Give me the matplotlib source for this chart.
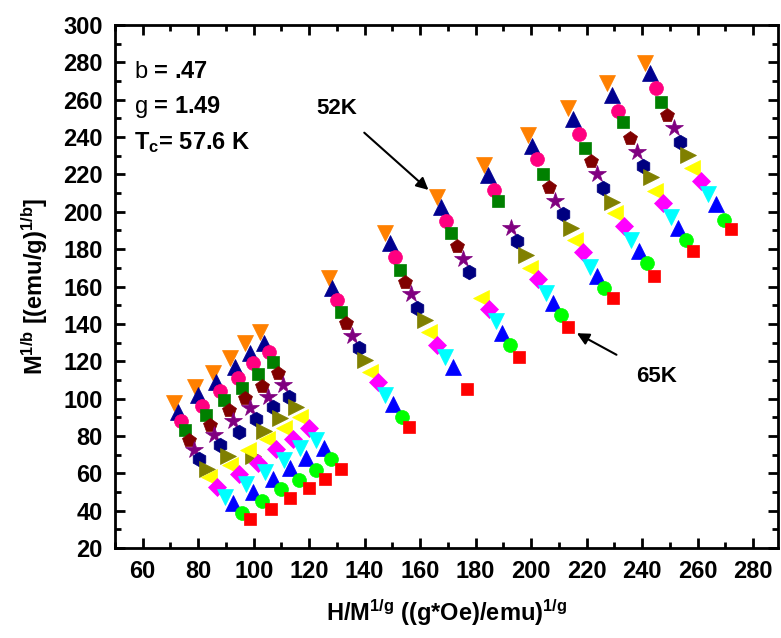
import numpy as np
import matplotlib
matplotlib.use("Agg")
import matplotlib.pyplot as plt
from matplotlib.ticker import MultipleLocator

plt.rcParams['font.family'] = ['Liberation Sans', 'DejaVu Sans']
plt.rcParams['mathtext.fontset'] = 'custom'
plt.rcParams['mathtext.rm'] = 'Liberation Sans:bold'
plt.rcParams['mathtext.it'] = 'Liberation Sans:bold'
plt.rcParams['mathtext.bf'] = 'Liberation Sans:bold'
plt.rcParams['mathtext.sf'] = 'Liberation Sans'

nan = np.nan
temperatures = [52, 53, 54, 55, 56, 57, 58, 59, 60, 61, 62, 63, 64, 65]

# H/M^(1/g) for each temperature, one value per field line (14 field lines)
x_52 = [71.17, 78.73, 85.36, 91.59, 97.00, 102.40, 127.00, 147.43, 166.05, 182.84, 198.83, 213.46, 227.29, 241.09]
y_52 = [97.48, 106.05, 113.87, 121.90, 129.60, 135.82, 164.40, 188.49, 208.08, 225.05, 241.11, 255.41, 268.79, 279.50]
x_53 = [72.61, 79.96, 86.55, 93.14, 98.54, 103.84, 128.23, 148.98, 167.60, 184.64, 200.49, 215.26, 229.31, 242.89]
y_53 = [92.99, 101.66, 109.05, 116.76, 124.25, 129.60, 159.05, 183.46, 202.73, 219.70, 235.23, 249.68, 262.53, 274.14]
x_54 = [73.94, 81.40, 87.99, 94.37, 99.77, 105.39, 130.03, 151.03, 169.40, 186.80, 202.29, 217.31, 231.47, 244.94]
y_54 = [88.01, 96.20, 103.91, 111.19, 118.90, 125.11, 152.78, 175.64, 195.08, 211.67, 228.11, 241.49, 254.12, 266.11]
x_55 = [75.38, 82.87, 89.43, 95.81, 101.43, 106.97, 131.58, 152.83, 171.20, 188.24, 204.45, 219.47, 233.27, 246.85]
y_55 = [83.03, 90.95, 99.09, 105.84, 113.17, 119.43, 146.52, 168.84, 188.81, 205.94, 220.24, 233.99, 247.91, 258.94]
x_56 = [76.82, 84.24, 90.98, 97.00, 103.01, 108.63, 133.38, 154.63, 173.36, nan, 206.61, 221.53, 235.69, 249.12]
y_56 = [77.84, 85.60, 93.74, 100.16, 106.75, 113.55, 140.31, 162.58, 181.69, nan, 213.44, 227.36, 239.67, 251.82]
x_57 = [78.37, 85.86, 92.67, 98.80, 105.03, 110.58, 135.43, 156.79, 175.35, 192.82, 208.67, 223.69, 238.10, 251.64]
y_57 = [72.65, 80.68, 87.85, 95.13, 101.02, 107.28, 133.51, 155.84, 174.47, 191.49, 205.94, 220.08, 231.85, 244.70]
x_58 = [80.17, 87.85, 94.58, 100.96, 106.83, 112.59, 137.81, 158.85, 177.69, 194.87, 211.37, 226.07, 240.48, 253.69]
y_58 = [67.67, 75.16, 82.28, 89.08, 95.34, 101.02, 127.25, 148.66, 167.94, 184.53, 198.82, 212.90, 224.52, 237.53]
x_59 = [83.05, 90.87, 99.88, 103.84, 109.60, 115.37, 140.22, 161.84, nan, 198.22, 214.25, 229.31, 243.25, 256.68]
y_59 = [62.15, 69.38, 69.27, 82.82, 89.45, 95.34, 120.66, 142.08, nan, 176.87, 191.33, 205.41, 218.47, 230.41]
x_60 = [83.92, 91.34, 97.90, 104.81, 111.04, 116.56, 142.02, 163.03, 182.01, 199.66, 215.77, 230.28, 244.69, 258.13]
y_60 = [57.76, 64.67, 72.22, 78.21, 84.10, 90.31, 114.40, 135.82, 154.02, 170.08, 184.90, 199.20, 211.13, 223.61]
x_61 = [86.80, 94.58, 101.39, 108.16, 114.18, 119.80, 144.91, 166.05, 185.00, 202.44, 218.58, 233.52, 247.68, 261.26]
y_61 = [52.68, 59.74, 65.69, 72.86, 78.21, 84.10, 108.89, 128.69, 147.81, 163.87, 178.64, 192.40, 204.55, 216.49]
x_62 = [89.79, 97.36, 104.20, 110.79, 116.56, 122.57, 147.43, 169.04, 187.23, 205.32, 221.28, 236.04, 250.35, 263.67]
y_62 = [47.48, 54.02, 60.87, 67.13, 73.39, 77.84, 101.93, 122.43, 141.54, 156.37, 170.61, 184.90, 197.38, 209.53]
x_63 = [92.38, 99.77, 106.97, 113.21, 118.97, 125.20, 150.20, 171.82, 189.39, 207.84, 223.80, 239.03, 253.08, 266.55]
y_63 = [44.11, 50.16, 56.80, 62.69, 68.04, 73.39, 97.11, 117.08, 135.12, 151.02, 165.63, 179.02, 191.49, 204.02]
x_64 = [95.81, 103.01, 109.96, 116.45, 122.46, 127.98, 153.44, nan, 192.50, 210.94, 226.43, 241.70, 255.86, 269.55]
y_64 = [38.92, 45.34, 51.45, 56.42, 61.78, 67.51, 90.31, nan, 128.50, 144.49, 159.05, 172.43, 184.90, 195.61]
x_65 = [98.80, 106.36, 113.21, 119.80, 125.81, 131.47, 155.82, 176.97, 195.50, 213.46, 229.45, 244.44, 258.49, 272.06]
y_65 = [35.44, 40.79, 46.63, 51.98, 56.80, 62.15, 84.96, 105.14, 122.50, 138.49, 153.69, 165.79, 179.02, 190.63]

xs = [x_52, x_53, x_54, x_55, x_56, x_57, x_58, x_59, x_60, x_61, x_62, x_63, x_64, x_65]
ys = [y_52, y_53, y_54, y_55, y_56, y_57, y_58, y_59, y_60, y_61, y_62, y_63, y_64, y_65]

markers = ['v', '^', 'o', 's', 'p', '*', 'h', '>', '<', 'D', 'v', '^', 'o', 's']
colors = ['#FF8000', '#000090', '#FF0080', '#008000', '#800000', '#800080', '#000080',
          '#808000', '#FFFF00', '#FF00FF', '#00FFFF', '#0000FF', '#00FF00', '#FF0000']
sizes = [11.5, 11.5, 10, 8.5, 10.5, 13, 10.5, 11, 11, 9, 11.5, 11.5, 10, 8.5]

fig = plt.figure(figsize=(7.81, 6.38), dpi=100)
ax = fig.add_axes([115/781, 1-548/638, (778-115)/781, (548-25)/638])

for x, y, m, c, s in zip(xs, ys, markers, colors, sizes):
    ax.plot(x, y, linestyle='none', marker=m, color=c, markersize=s,
            markeredgecolor=c, markeredgewidth=0.5)

ax.set_xlim(50, 289)
ax.set_ylim(20, 300)
ax.xaxis.set_major_locator(MultipleLocator(20))
ax.xaxis.set_minor_locator(MultipleLocator(10))
ax.yaxis.set_major_locator(MultipleLocator(20))
ax.yaxis.set_minor_locator(MultipleLocator(10))
ax.tick_params(which='both', direction='in', top=True, right=True, width=2)
ax.tick_params(which='major', length=7, labelsize=17, pad=9)
ax.tick_params(which='minor', length=4)
for lab in ax.get_xticklabels() + ax.get_yticklabels():
    lab.set_fontweight('bold')
for sp in ax.spines.values():
    sp.set_linewidth(2)

ax.set_xlabel(r'H/M$^{\rm 1/g}$ ((g*Oe)/emu)$^{\rm 1/g}$', fontsize=17, fontweight='bold', labelpad=10)
ax.set_ylabel(r'M$^{\rm 1/b}$ [(emu/g)$^{\rm 1/b}$]', fontsize=17, fontweight='bold', labelpad=9)

ax.text(57, 275, r'$\mathsf{b}$ = .47', fontsize=17, fontweight='bold', va='center', ha='left')
ax.text(57, 256, r'$\mathsf{g}$ = 1.49', fontsize=17, fontweight='bold', va='center', ha='left')
ax.text(57, 237, r'T$_{\rm c}$= 57.6 K', fontsize=17, fontweight='bold', va='center', ha='left')

ax.annotate('52K', xy=(163.0, 211.7), xytext=(130.0, 255.4), fontsize=16, fontweight='bold',
            ha='center', va='center',
            arrowprops=dict(arrowstyle='-|>', color='black', lw=1.5, mutation_scale=18,
                            shrinkA=12, shrinkB=0))
ax.annotate('65K', xy=(216.5, 135.0), xytext=(245.3, 111.7), fontsize=16, fontweight='bold',
            ha='center', va='center',
            arrowprops=dict(arrowstyle='-|>', color='black', lw=1.5, mutation_scale=18,
                            shrinkA=14, shrinkB=0))

fig.savefig('out.png', dpi=100)
